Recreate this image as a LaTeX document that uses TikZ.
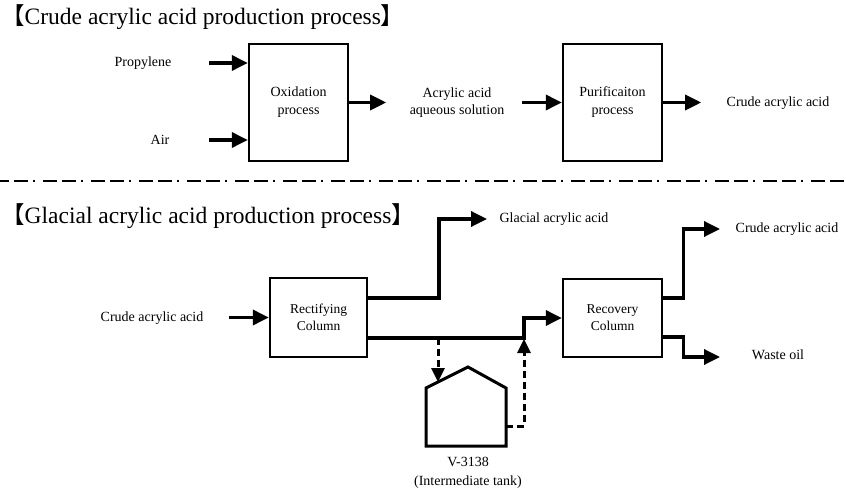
\documentclass[tikz,border=0pt]{standalone}
\usepackage{fontspec}
\setmainfont{Liberation Serif}
\newfontfamily\cjk{Noto Sans CJK JP}
\usetikzlibrary{arrows.meta,calc}
\begin{document}
\begin{tikzpicture}[x=1pt,y=-1pt,
 lbl/.style={inner sep=0pt, font=\fontsize{14}{17}\selectfont, align=center},
 boxn/.style={draw, line width=2.4pt, inner sep=0pt, font=\fontsize{14}{18}\selectfont, align=center},
 arr/.style={line width=3.4pt, -{Triangle[length=16pt,width=15pt]}},
 darr/.style={line width=3pt, dash pattern=on 7pt off 4pt, -{Triangle[length=14pt,width=13pt]}},
 ttl/.style={inner sep=0pt, font=\fontsize{23.5}{28}\selectfont, anchor=west}]
\useasboundingbox (0,0) rectangle (846,494);

% titles
\node[ttl] (t1) at (1,17) {{\cjk 【}Crude acrylic acid production process{\cjk 】}};
\node[ttl] (t2) at (1,216) {{\cjk 【}Glacial acrylic acid production process{\cjk 】}};

% separator
\draw[line width=2pt, dash pattern=on 14pt off 5pt on 14pt off 5pt on 2pt off 8pt, dash phase=5pt] (0,181) coordinate (sepL) -- (846,181) coordinate (sepR);

% ---------- top process ----------
\node[boxn, minimum width=99pt, minimum height=117pt] (ox) at (298.5,102.5) {Oxidation\\process};
\node[boxn, minimum width=99pt, minimum height=117pt] (pur) at (612.5,102.5) {Purificaiton\\process};
\node[lbl] (prop) at (143,63) {Propylene};
\node[lbl] (air) at (160,140) {Air};
\node[lbl] (aq) at (457,103) {Acrylic acid\\aqueous solution};
\node[lbl] (cr1) at (778,103) {Crude acrylic acid};

\draw[arr] ($(ox.west|-prop)+(-39,0)$) -- (ox.west|-prop);
\draw[arr] ($(ox.west|-air)+(-39,0)$) -- (ox.west|-air);
\draw[arr] (ox.east) -- ++(37,0) coordinate (aqin);
\draw[arr] ($(pur.west)+(-40,0)$) -- (pur.west);
\draw[arr] (pur.east) -- ++(38,0) coordinate (cr1in);

% ---------- bottom process ----------
\node[boxn, minimum width=97pt, minimum height=79pt, font=\fontsize{13.5}{17}\selectfont] (rect) at (318.5,317.5) {Rectifying\\Column};
\node[boxn, minimum width=99pt, minimum height=78pt, font=\fontsize{13.5}{17}\selectfont] (rec) at (612.5,318) {Recovery\\Column};
\node[lbl] (cr2) at (152,318) {Crude acrylic acid};
\node[lbl] (glac) at (554,219) {Glacial acrylic acid};
\node[lbl] (cr3) at (787,229) {Crude acrylic acid};
\node[lbl] (waste) at (778,355) {Waste oil};
\node[lbl, font=\fontsize{14}{19}\selectfont] (tanklbl) at (468,472.5) {V-3138\\(Intermediate tank)};

% tank
\draw[line width=3pt, line join=miter] (426,446) coordinate (tBL) -- (426,388) -- (468,367) coordinate (tTop) -- (506,388) -- (506,446) coordinate (tBR) -- cycle;
\coordinate (tankOut) at (506,426);
\coordinate (roof) at (438,382);

\coordinate (gend) at (487,219);
\coordinate (j) at (524,338);
\coordinate (d1) at (438,338);
\coordinate (cend) at (720,229);
\coordinate (wend) at (720,357);

\draw[arr] ($(cr2.east|-rect.west)+(25,0)$) -- (rect.west);
\draw[arr, line join=miter] ($(rect.east)+(0,-19.5)$) -- (439,298) |- (gend);
\draw[arr, line join=miter] ($(rect.east)+(0,20.5)$) -- (j) |- (rec.west);
\draw[arr, line join=miter] ($(rec.east)+(0,-20)$) -- ++(20,0) |- (cend);
\draw[arr, line join=miter] ($(rec.east)+(0,19)$) -- ++(20,0) |- (wend);

\draw[darr] (d1) -- (roof);
\draw[darr] (tankOut) -| ($(j)+(0,1)$);
\end{tikzpicture}
\end{document}
